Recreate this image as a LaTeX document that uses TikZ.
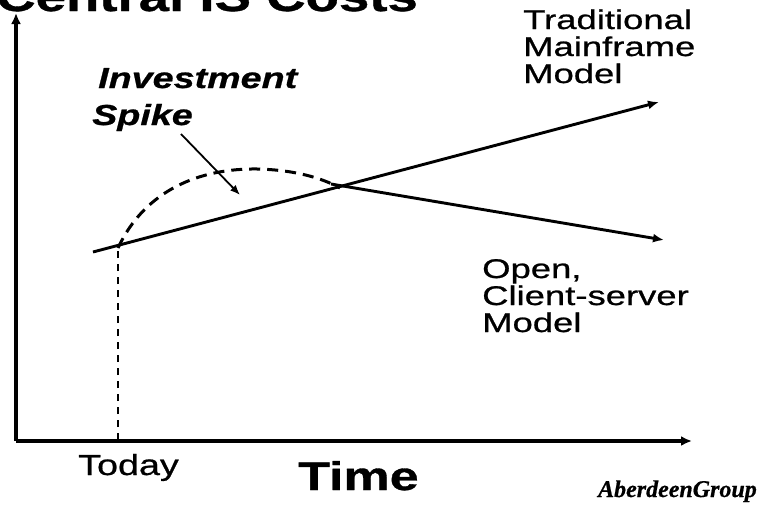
\documentclass[tikz,border=0pt]{standalone}
\usepackage{fontspec}
\setmainfont{Liberation Sans}
\newfontfamily\widesans[FakeStretch=1.3,FakeBold=0.8]{Liberation Sans}
\newfontfamily\widesansB[FakeStretch=1.35,FakeBold=0.8]{Liberation Sans}
\newfontfamily\serifbrand[FakeBold=0.6]{Liberation Serif}
\usetikzlibrary{arrows.meta}
\tikzset{
  axis/.style={line width=3.4pt, -{Latex[length=11pt,width=10pt]}},
  model/.style={line width=2.9pt, -{Latex[length=11pt,width=9pt]}},
  spikeline/.style={line width=3pt, dash pattern=on 11pt off 7pt},
  todayline/.style={line width=2.3pt, dash pattern=on 7pt off 6pt},
  pointer/.style={line width=1.8pt, -{Latex[length=10pt,width=8pt]}},
  lbl/.style={inner sep=0pt, anchor=base west},
}
\begin{document}
\begin{tikzpicture}[x=1pt,y=-1pt]
\useasboundingbox (0,0) rectangle (758,504);
\clip (0,0) rectangle (758,504);
\fill[white] (0,0) rectangle (758,504);
% title (cut off at the top)
\node[lbl] (title) at (-4,11) {\fontsize{42}{42}\selectfont\widesans\bfseries Central IS Costs};
% axes
\coordinate (origin) at (16,441);
\coordinate (ytip) at (16,13);
\coordinate (xtip) at (692,441);
\draw[axis] (origin) -- (ytip);
\draw[axis] (origin) -- (xtip);
% today marker
\coordinate (todaybase) at (118,440);
\coordinate (todaytop) at (118,248);
\draw[todayline] (todaybase) -- (todaytop);
% models
\coordinate (mstart) at (93,252);
\coordinate (mtip) at (659,102);
\draw[model] (mstart) -- (mtip);
\coordinate (cross) at (331,184);
\coordinate (otip) at (664,240);
\draw[model] (cross) -- (otip);
% investment spike curve
\draw[spikeline] (todaytop) .. controls (145,190) and (200,168) .. (258,169)
  .. controls (295,170) and (322,178) .. (340,188);
% labels
\node[lbl] (inv) at (98,88) {\fontsize{29}{29}\selectfont\widesans\bfseries\itshape Investment};
\node[lbl] (spike) at (92,125) {\fontsize{29}{29}\selectfont\widesans\bfseries\itshape Spike};
\coordinate (pstart) at (181,134);
\coordinate (ptip) at (240,195);
\draw[pointer] (pstart) -- (ptip);
\node[lbl] (t1) at (523,29) {\fontsize{27}{27}\selectfont\widesansB Traditional};
\node[lbl] (t2) at (523,56) {\fontsize{27}{27}\selectfont\widesansB Mainframe};
\node[lbl] (t3) at (523,83) {\fontsize{27}{27}\selectfont\widesansB Model};
\node[lbl] (o1) at (482,278) {\fontsize{27}{27}\selectfont\widesansB Open,};
\node[lbl] (o2) at (482,305) {\fontsize{27}{27}\selectfont\widesansB Client-server};
\node[lbl] (o3) at (482,332) {\fontsize{27}{27}\selectfont\widesansB Model};
\node[lbl] (today) at (78,475) {\fontsize{29}{29}\selectfont\widesans Today};
\node[lbl] (time) at (298,490) {\fontsize{40}{40}\selectfont\widesans\bfseries Time};
\node[inner sep=0pt, anchor=base east] (brand) at (757,497) {\fontsize{24}{24}\selectfont\serifbrand\bfseries\itshape AberdeenGroup};
\end{tikzpicture}
\end{document}
